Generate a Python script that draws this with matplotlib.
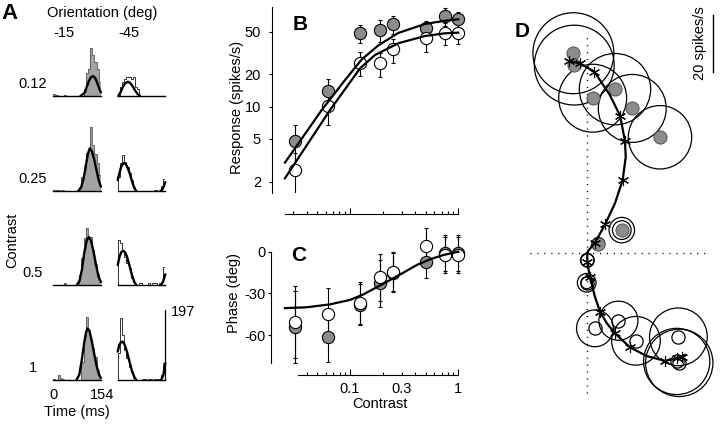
import matplotlib
matplotlib.use('Agg')
import matplotlib.pyplot as plt
import numpy as np
from matplotlib.patches import Circle

plt.rcParams['font.family'] = ['Liberation Sans', 'DejaVu Sans']
plt.rcParams['font.size'] = 10

# ---------------- data ----------------
# Panel A: PSTHs (spikes/s), 22 bins of 7 ms over one 154 ms cycle
contrast_rows = ['0.12', '0.25', '0.5', '1']
orientations = ['-15', '-45']
bin_edges_ms = list(range(0, 155, 7))

hist_m15_r1 = [5, 3, 0, 0, 0, 3, 0, 0, 0, 0, 0, 0, 0, 0, 10, 64, 75, 134, 115, 95, 75, 40]
hist_m15_r2 = [4, 3, 2, 0, 2, 0, 0, 0, 0, 0, 0, 0, 12, 38, 59, 106, 115, 180, 129, 105, 78, 45]
hist_m15_r3 = [0, 0, 0, 0, 0, 5, 0, 0, 0, 0, 0, 0, 28, 75, 131, 160, 135, 135, 98, 60, 30, 15]
hist_m15_r4 = [3, 0, 14, 5, 3, 0, 0, 0, 0, 0, 0, 0, 0, 50, 120, 178, 140, 112, 90, 65, 28, 15]
hist_m45_r1 = [0, 26, 40, 47, 54, 54, 48, 54, 26, 20, 0, 0, 0, 0, 0, 0, 0, 0, 0, 0, 0, 0]
hist_m45_r2 = [40, 78, 101, 82, 68, 50, 31, 10, 0, 0, 0, 0, 0, 0, 0, 0, 0, 3, 0, 3, 14, 34]
hist_m45_r3 = [126, 117, 98, 80, 61, 47, 19, 9, 0, 0, 7, 0, 0, 0, 5, 0, 5, 5, 0, 5, 9, 52]
hist_m45_r4 = [75, 175, 126, 84, 61, 37, 23, 5, 0, 0, 0, 4, 4, 0, 4, 4, 0, 4, 4, 0, 15, 47]

fit_m15_r1_t = [88, 100, 108, 115, 122, 129, 136, 143, 150, 154]
fit_m15_r1_v = [0, 8, 25, 42, 53, 56, 50, 35, 18, 10]
fit_m15_r2_t = [81, 90, 98, 105, 112, 118, 125, 132, 140, 147, 154]
fit_m15_r2_v = [0, 10, 35, 70, 105, 120, 112, 90, 58, 30, 12]
fit_m15_r3_t = [76, 85, 93, 100, 108, 115, 122, 130, 138, 146, 154]
fit_m15_r3_v = [0, 12, 45, 90, 125, 135, 125, 95, 58, 25, 8]
fit_m15_r4_t = [75, 84, 92, 100, 106, 111, 117, 124, 132, 140, 148, 154]
fit_m15_r4_v = [0, 15, 55, 105, 135, 145, 138, 112, 75, 40, 15, 5]

fit_m45_r1_t = [2, 10, 18, 26, 33, 40, 48, 56, 65, 72]
fit_m45_r1_v = [0, 12, 28, 37, 40, 37, 28, 16, 5, 0]
fit_m45_r2_t = [0, 6, 12, 18, 24, 30, 38, 46, 54, 60]
fit_m45_r2_v = [31, 52, 70, 78, 78, 70, 52, 28, 8, 0]
fit_m45_r3_t = [0, 6, 12, 18, 24, 30, 38, 46, 54, 60]
fit_m45_r3_v = [56, 80, 93, 96, 92, 80, 55, 28, 8, 0]
fit_m45_r4_t = [0, 5, 10, 16, 22, 30, 38, 46, 54, 60]
fit_m45_r4_v = [80, 98, 106, 108, 100, 80, 52, 26, 8, 0]
fit_m45_end_t = [140, 147, 154]
fit_m45_end_r2 = [0, 8, 25]
fit_m45_end_r3 = [0, 10, 30]
fit_m45_end_r4 = [0, 12, 47]
psth_scale = 197

# Panels B and C
contrast = [0.03125, 0.0625, 0.125, 0.1875, 0.25, 0.5, 0.75, 1.0]
resp_m15 = [4.8, 14.1, 48.3, 51.9, 58.6, 53.8, 70.0, 65.3]
resp_m15_err = [2.0, 4.0, 9.4, 12.0, 11.5, 9.5, 13.0, 11.0]
resp_m45 = [2.57, 10.2, 25.7, 25.4, 34.3, 43.4, 49.0, 49.0]
resp_m45_err = [1.1, 3.4, 6.5, 6.4, 8.6, 10.8, 11.4, 11.0]
fit_resp_m15_c = [0.0251, 0.0548, 0.0899, 0.128, 0.181, 0.278, 0.493, 0.754, 1.0]
fit_resp_m15 = [3.01, 9.31, 17.7, 27.5, 37.0, 48.6, 59.0, 63.3, 65.3]
fit_resp_m45_c = [0.0251, 0.0654, 0.124, 0.170, 0.279, 0.493, 0.754, 1.0]
fit_resp_m45 = [2.15, 9.31, 22.8, 30.3, 39.0, 45.6, 48.3, 49.0]

phase_m15 = [-54, -61.6, -38, -22.7, -15, -7.2, -0.7, -1.2]
phase_m15_err = [26, 18, 15, 17, 14, 12, 13, 13]
phase_m45 = [-50.4, -44.8, -37.1, -18.4, -14.4, 4.3, -2.4, -2.4]
phase_m45_err = [26, 19, 15, 17, 14, 13, 13, 13]
fit_phase_c = [0.0251, 0.0398, 0.0654, 0.1, 0.133, 0.176, 0.234, 0.311, 0.413, 0.548, 0.727, 1.0]
fit_phase = [-40.6, -40.0, -37.9, -34.7, -30.7, -25.6, -20.4, -15.1, -9.6, -5.5, -2.4, 0]

# Panel D: response vectors (spikes/s)
vec_m15_x = [3.9, 12.2, 25.7, 15.9, 9.8, 1.9, -4.9, -4.6]
vec_m15_y = [3.3, 8.2, 41.0, 51.2, 58.0, 54.8, 70.7, 66.5]
vec_m15_r = [2.3, 3.3, 11.2, 12.0, 12.6, 12.0, 14.3, 14.1]
vec_m15_r2 = [0, 4.5, 0, 0, 0, 0, 0, 0]
vec_m45_x = [0, -0.2, 2.7, 11.0, 17.2, 32.2, 31.6, 32.5]
vec_m45_y = [-2.4, -10.4, -26.5, -23.8, -30.9, -29.5, -38.2, -38.7]
vec_m45_r = [2.4, 2.1, 6.5, 6.9, 8.6, 10.2, 11.7, 11.9]
vec_m45_r2 = [0, 3.3, 0, 0, 0, 0, 0, 0]
model_m15_x = [2.7, 6.4, 12.5, 13.3, 11.6, 2.5, -2.6, -6.4]
model_m15_y = [3.7, 10.4, 25.9, 39.8, 48.6, 64.2, 67.1, 67.9]
model_m45_x = [0, 0.95, 4.5, 9.8, 15.1, 27.5, 31.6, 33.4]
model_m45_y = [-3.0, -8.5, -20.6, -28.3, -33.2, -38.0, -37.1, -36.5]
curve_m15_x = [0, 0.35, 2.7, 6.4, 9.8, 12.5, 13.6, 13.3, 11.6, 8.0, 2.5, -2.6, -6.4]
curve_m15_y = [0, 0.9, 3.7, 10.4, 17.7, 25.9, 34.1, 39.8, 48.6, 55.9, 64.2, 67.1, 67.9]
curve_m45_x = [0, 0, 0.95, 2.7, 4.5, 6.9, 9.8, 15.1, 21.0, 27.5, 31.6, 34.5]
curve_m45_y = [0, -3.0, -8.5, -15.3, -20.6, -24.7, -28.3, -33.2, -36.3, -38.0, -37.1, -35.9]
scale_bar = 20

# ---------------- styles ----------------
GRAY_HIST = '#a3a3a3'
GRAY_MARK = '#8c8c8c'

W, H = 720, 424
fig = plt.figure(figsize=(7.2, 4.24), dpi=100)


def px_axes(x0, y0, w, h):
    return fig.add_axes([x0 / W, 1 - (y0 + h) / H, w / W, h / H])


def px_text(x, y, s, **kw):
    return fig.text(x / W, 1 - y / H, s, **kw)


# ---------------- Panel A ----------------
hists_m15 = [hist_m15_r1, hist_m15_r2, hist_m15_r3, hist_m15_r4]
hists_m45 = [hist_m45_r1, hist_m45_r2, hist_m45_r3, hist_m45_r4]
fits_m15 = [(fit_m15_r1_t, fit_m15_r1_v), (fit_m15_r2_t, fit_m15_r2_v),
            (fit_m15_r3_t, fit_m15_r3_v), (fit_m15_r4_t, fit_m15_r4_v)]
fits_m45 = [(fit_m45_r1_t, fit_m45_r1_v), (fit_m45_r2_t, fit_m45_r2_v),
            (fit_m45_r3_t, fit_m45_r3_v), (fit_m45_r4_t, fit_m45_r4_v)]
fits_end = [None, fit_m45_end_r2, fit_m45_end_r3, fit_m45_end_r4]

row_base = [96, 191, 285, 380]
col_x = [53.3, 117.7]
col_w = 47.6
ax_h = 80
ymax = ax_h * psth_scale / 70.0
for r in range(4):
    for c in range(2):
        ax = px_axes(col_x[c], row_base[r] - ax_h, col_w, ax_h)
        ax.set_xlim(0, 154)
        ax.set_ylim(0, ymax)
        ax.axis('off')
        if c == 0:
            ax.stairs(hists_m15[r], bin_edges_ms, fill=True, color=GRAY_HIST, lw=0)
            ax.stairs(hists_m15[r], bin_edges_ms, color='#555555', lw=0.6)
            t, v = fits_m15[r]
        else:
            ax.stairs(hists_m45[r], bin_edges_ms, color='#333333', lw=0.7)
            t, v = fits_m45[r]
            if fits_end[r] is not None:
                ax.plot(fit_m45_end_t, fits_end[r], color='k', lw=1.7,
                        solid_capstyle='round', clip_on=False)
        ax.plot(t, v, color='k', lw=1.7, solid_capstyle='round', clip_on=False)
        ax.plot([0, 154], [0, 0], color='k', lw=1.0, clip_on=False)
        if r == 3 and c == 1:
            ax.plot([154, 154], [0, psth_scale], color='k', lw=0.9, clip_on=False)

px_text(1, 19, 'A', fontsize=16, fontweight='bold', va='baseline')
px_text(102, 13, 'Orientation (deg)', ha='center', va='center', fontsize=10.5)
px_text(64, 33, orientations[0], ha='center', va='center', fontsize=10.5)
px_text(129, 33, orientations[1], ha='center', va='center', fontsize=10.5)
for lab, yy in zip(contrast_rows, [84, 179, 273, 368]):
    px_text(33, yy, lab, ha='center', va='center', fontsize=10.5)
px_text(12, 240, 'Contrast', rotation=90, ha='center', va='center', fontsize=10.5)
px_text(53, 395, '0', ha='center', va='center', fontsize=10.5)
px_text(102, 395, '154', ha='center', va='center', fontsize=10.5)
px_text(77, 412, 'Time (ms)', ha='center', va='center', fontsize=10.5)
px_text(171, 312, str(psth_scale), ha='left', va='center', fontsize=10.5)

# ---------------- Panel B ----------------
minor_c = [0.03, 0.04, 0.05, 0.06, 0.07, 0.08, 0.09,
           0.2, 0.3, 0.4, 0.5, 0.6, 0.7, 0.8, 0.9]

axB = px_axes(272, 6.7, 194, 186.3)
axB.set_xscale('log')
axB.set_yscale('log')
axB.set_xlim(0.01905, 1.178)
axB.set_ylim(1.569, 85.5)
for s in ['top', 'right']:
    axB.spines[s].set_visible(False)
axB.spines['left'].set_linewidth(0.8)
axB.spines['bottom'].set_linewidth(0.8)
axB.spines['bottom'].set_position(('outward', 15.1))
axB.spines['bottom'].set_bounds(0.025, 1.0)
axB.set_yticks([2, 5, 10, 20, 50])
axB.set_yticklabels(['2', '5', '10', '20', '50'])
axB.yaxis.set_minor_locator(matplotlib.ticker.NullLocator())
axB.tick_params(axis='y', direction='out', length=2.5, width=0.8, pad=5.5, labelsize=10.5)
axB.set_xticks([0.1, 1.0])
axB.set_xticks(minor_c, minor=True)
axB.set_xticklabels([])
axB.set_xticklabels([], minor=True)
axB.tick_params(axis='x', which='major', direction='in', length=4, width=0.8)
axB.tick_params(axis='x', which='minor', direction='in', length=2, width=0.8)

axB.errorbar(contrast, resp_m15, yerr=resp_m15_err, fmt='none', ecolor='k',
             elinewidth=0.8, capsize=1.5, capthick=0.8, zorder=2, clip_on=False)
axB.errorbar(contrast, resp_m45, yerr=resp_m45_err, fmt='none', ecolor='k',
             elinewidth=0.8, capsize=1.5, capthick=0.8, zorder=2)
axB.plot(contrast, resp_m15, 'o', ms=8.8, mfc=GRAY_MARK, mec='k', mew=0.8,
         zorder=3, clip_on=False)
axB.plot(contrast, resp_m45, 'o', ms=8.8, mfc='white', mec='k', mew=0.8,
         zorder=4, clip_on=False)
axB.plot(fit_resp_m15_c, fit_resp_m15, color='k', lw=1.6, zorder=5, clip_on=False)
axB.plot(fit_resp_m45_c, fit_resp_m45, color='k', lw=1.6, zorder=5, clip_on=False)
px_text(293, 30, 'B', fontsize=15, fontweight='bold', va='baseline')
px_text(237, 107, 'Response (spikes/s)', rotation=90, ha='center', va='center', fontsize=10.5)

# ---------------- Panel C ----------------
axC = px_axes(271, 225, 195, 138.3)
axC.set_xscale('log')
axC.set_xlim(0.01864, 1.178)
axC.set_ylim(-80.3, 19.2)
for s in ['top', 'right']:
    axC.spines[s].set_visible(False)
axC.spines['left'].set_linewidth(0.8)
axC.spines['bottom'].set_linewidth(0.8)
axC.spines['left'].set_bounds(-80.3, 0)
axC.spines['bottom'].set_position(('outward', 8.4))
axC.spines['bottom'].set_bounds(0.033, 1.0)
axC.set_yticks([0, -30, -60])
axC.set_yticklabels(['0', '-30', '-60'])
axC.tick_params(axis='y', direction='out', length=2.5, width=0.8, pad=1.5, labelsize=10.5)
axC.set_xticks([0.1, 1.0])
axC.set_xticklabels(['0.1', '1'])
minor_c_C = [m for m in minor_c if m > 0.032]
axC.set_xticks(minor_c_C, minor=True)
axC.set_xticklabels(['0.3' if abs(m - 0.3) < 1e-9 else '' for m in minor_c_C], minor=True)
axC.tick_params(axis='x', which='major', direction='in', length=4, width=0.8, pad=5, labelsize=10.5)
axC.tick_params(axis='x', which='minor', direction='in', length=2, width=0.8, pad=5, labelsize=10.5)

axC.errorbar(contrast, phase_m15, yerr=phase_m15_err, fmt='none', ecolor='k',
             elinewidth=0.8, capsize=1.5, capthick=0.8, zorder=2, clip_on=False)
axC.errorbar(contrast, phase_m45, yerr=phase_m45_err, fmt='none', ecolor='k',
             elinewidth=0.8, capsize=1.5, capthick=0.8, zorder=2, clip_on=False)
axC.plot(contrast, phase_m15, 'o', ms=8.8, mfc=GRAY_MARK, mec='k', mew=0.8,
         zorder=3, clip_on=False)
axC.plot(contrast, phase_m45, 'o', ms=8.8, mfc='white', mec='k', mew=0.8,
         zorder=4, clip_on=False)
axC.plot(fit_phase_c, fit_phase, color='k', lw=1.6, zorder=5, clip_on=False)
px_text(291, 261, 'C', fontsize=15, fontweight='bold', va='baseline')
px_text(234, 293, 'Phase (deg)', rotation=90, ha='center', va='center', fontsize=10.5)
px_text(380, 404, 'Contrast', ha='center', va='center', fontsize=10.5)

# ---------------- Panel D ----------------
axD = px_axes(495, 0, 225, 424)
axD.set_xlim(-32.6, 46.9)
axD.set_ylim(-60.3, 89.5)
axD.axis('off')
axD.plot([0, 0], [-49.4, 77.8], color='k', lw=1.0, ls=(0, (0.8, 4.2)))
axD.plot([-20.3, 43.3], [0, 0], color='k', lw=1.0, ls=(0, (0.8, 4.2)))
for x, y, r1, r2 in zip(vec_m15_x, vec_m15_y, vec_m15_r, vec_m15_r2):
    axD.add_patch(Circle((x, y), r1, fill=False, ec='k', lw=0.9, zorder=2))
    if r2 > 0:
        axD.add_patch(Circle((x, y), r2, fill=False, ec='k', lw=0.9, zorder=2))
for x, y, r1, r2 in zip(vec_m45_x, vec_m45_y, vec_m45_r, vec_m45_r2):
    axD.add_patch(Circle((x, y), r1, fill=False, ec='k', lw=0.9, zorder=2))
    if r2 > 0:
        axD.add_patch(Circle((x, y), r2, fill=False, ec='k', lw=0.9, zorder=2))
axD.plot(vec_m15_x, vec_m15_y, 'o', ms=9.5, mfc=GRAY_MARK, mec='#444444', mew=0.6,
         ls='none', zorder=3)
axD.plot(vec_m45_x, vec_m45_y, 'o', ms=9.5, mfc='none', mec='k', mew=0.9,
         ls='none', zorder=3)
axD.plot(curve_m15_x, curve_m15_y, color='k', lw=1.6, zorder=4)
axD.plot(curve_m45_x, curve_m45_y, color='k', lw=1.6, zorder=4)
axD.plot(model_m15_x, model_m15_y, ls='none', marker=(6, 2, 0), ms=8, mec='k', mew=0.8, zorder=5)
axD.plot(model_m45_x, model_m45_y, ls='none', marker=(6, 2, 0), ms=8, mec='k', mew=0.8, zorder=5)
axD.plot([44.4, 44.4], [84.2, 84.2 - scale_bar], color='k', lw=1.0)
axD.text(39.8, 74.3, f'{scale_bar} spikes/s', rotation=90, ha='center', va='center', fontsize=10.5)
px_text(515, 37, 'D', fontsize=15, fontweight='bold', va='baseline')

fig.savefig('out.png', dpi=100)
